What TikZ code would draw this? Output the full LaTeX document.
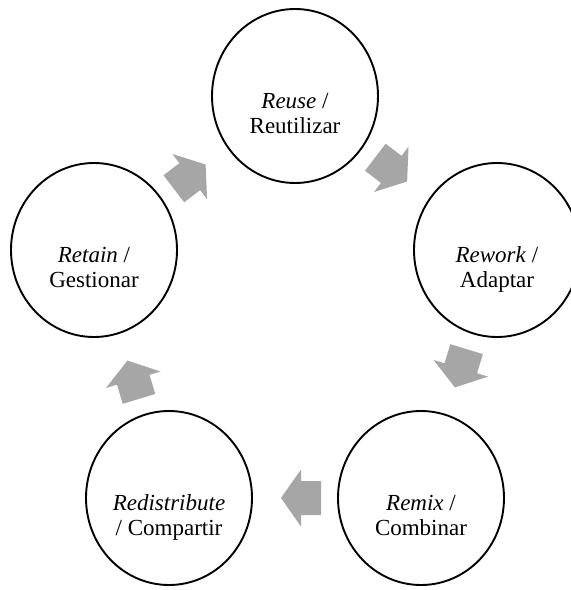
\documentclass[tikz,border=0pt]{standalone}
\usepackage{fontspec}
\setmainfont{Liberation Serif}
\usetikzlibrary{calc,shapes.geometric}
\definecolor{arrowgray}{RGB}{166,166,166}
\tikzset{
  ring/.style={ellipse, draw=black, fill=white, line width=1.9bp,
    minimum width=166bp, minimum height=174bp, inner sep=0pt},
  ringtext/.style={align=center, inner sep=0pt,
    font=\fontsize{23bp}{25bp}\selectfont},
  cyclearrow/.style={fill=arrowgray}
}
\newcommand\cycarrow[2]{%
  \pgfmathanglebetweenpoints{\pgfpointanchor{#1}{center}}{\pgfpointanchor{#2}{center}}%
  \edef\cycang{\pgfmathresult}%
  \fill[cyclearrow, shift={($(#1)!0.5!(#2)$)}, rotate=\cycang]
    (-26bp,-17bp) -- (-6bp,-17bp) -- (-6bp,-28.5bp) -- (14bp,0bp)
    -- (-6bp,28.5bp) -- (-6bp,17bp) -- (-26bp,17bp) -- cycle;
}
\begin{document}
\begin{tikzpicture}[x=1bp,y=-1bp]
\useasboundingbox (0,0) rectangle (571,590);
\clip (0,0) rectangle (571,590);
\node[ring] (reuse) at (295,96) {};
\node[ring] (rework) at (497,250) {};
\node[ring] (remix) at (421,498) {};
\node[ring] (redist) at (169,498) {};
\node[ring] (retain) at (94,250) {};
\node[ringtext] (reuse-t) at ($(reuse.center)+(0,20)$) {\textit{Reuse} /\strut\\Reutilizar\strut};
\node[ringtext] (rework-t) at ($(rework.center)+(0,20)$) {\textit{Rework} /\strut\\Adaptar\strut};
\node[ringtext] (remix-t) at ($(remix.center)+(0,20)$) {\textit{Remix} /\strut\\Combinar\strut};
\node[ringtext] (redist-t) at ($(redist.center)+(0,20)$) {\textit{Redistribute}\strut\\/ Compartir\strut};
\node[ringtext] (retain-t) at ($(retain.center)+(0,20)$) {\textit{Retain} /\strut\\Gestionar\strut};
\cycarrow{reuse}{rework}
\cycarrow{rework}{remix}
\cycarrow{remix}{redist}
\cycarrow{redist}{retain}
\cycarrow{retain}{reuse}
\end{tikzpicture}
\end{document}
